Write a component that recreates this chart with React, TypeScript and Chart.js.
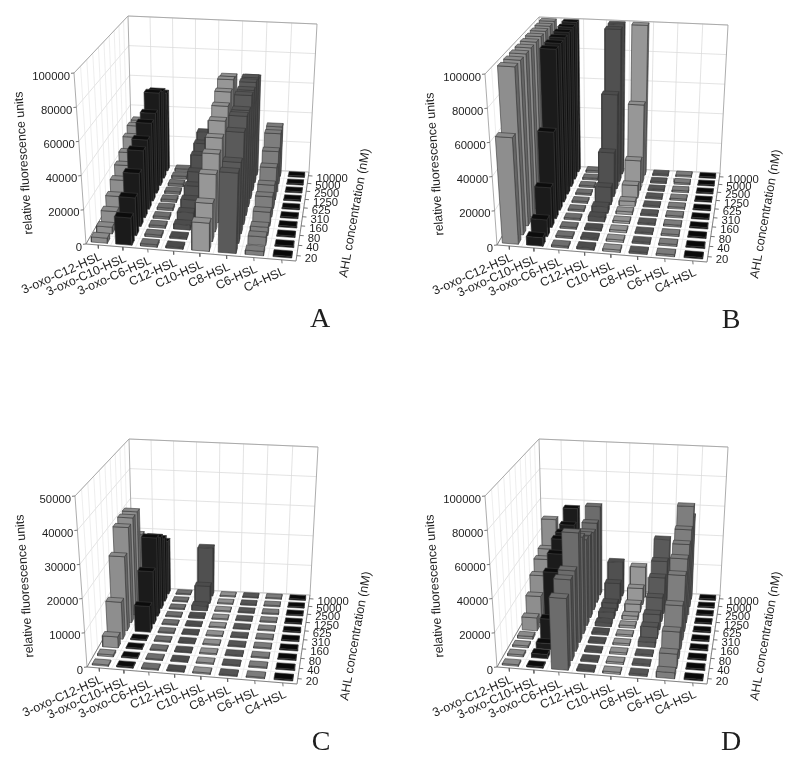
import React, { useEffect, useRef } from "react";
import { Chart, registerables } from "chart.js";

Chart.register(...registerables);

const categories = ["3-oxo-C12-HSL", "3-oxo-C10-HSL", "3-oxo-C6-HSL", "C12-HSL", "C10-HSL", "C8-HSL", "C6-HSL", "C4-HSL"];
const concentrations = ["20", "40", "80", "160", "310", "625", "1250", "2500", "5000", "10000"];
const yTicksHigh = [0, 20000, 40000, 60000, 80000, 100000];
const yTicksLow = [0, 10000, 20000, 30000, 40000, 50000];

// each row: one AHL, values from 20 nM to 10000 nM
const panelA = [
  [3000, 4000, 8000, 12000, 17000, 21500, 25000, 30500, 33500, 33000],
  [16000, 22500, 32000, 41000, 43000, 49000, 51000, 60000, 57000, 52000],
  [1500, 1500, 1500, 1500, 1600, 1700, 1700, 1800, 1900, 1900],
  [1200, 1200, 3000, 5000, 7500, 11000, 15000, 21000, 24000, 27000],
  [16500, 22500, 34500, 42000, 47000, 53000, 58000, 63000, 67000, 65000],
  [47000, 48000, 61000, 66000, 65000, 70000, 69000, 70000, 69000, 65000],
  [2500, 5000, 5000, 8500, 12500, 14500, 20500, 26000, 33000, 33000],
  [900, 900, 900, 900, 900, 900, 900, 900, 900, 900],
];
const panelB = [
  [62500, 100000, 100000, 100000, 100000, 100000, 100000, 100000, 100000, 100000],
  [5000, 10000, 24000, 53000, 100000, 100000, 100000, 100000, 100000, 100000],
  [1200, 1200, 1200, 1200, 1200, 1200, 1200, 1200, 1300, 1500],
  [1400, 1400, 1400, 3000, 4000, 11000, 28000, 61000, 100000, 100000],
  [1400, 1400, 1400, 1400, 1800, 3000, 8000, 19000, 51000, 100000],
  [1200, 1200, 1200, 1200, 1200, 1200, 1200, 1200, 1200, 1200],
  [1200, 1200, 1200, 1200, 1200, 1200, 1200, 1200, 1200, 1200],
  [900, 900, 900, 900, 900, 900, 900, 900, 900, 900],
];
const panelC = [
  [400, 600, 3300, 11300, 23000, 30000, 31000, 31000, 21500, 15000],
  [400, 400, 400, 400, 8000, 16500, 25000, 23000, 20500, 17500],
  [400, 400, 400, 400, 400, 400, 400, 400, 400, 400],
  [400, 400, 400, 400, 400, 400, 600, 1600, 5600, 16000],
  [400, 400, 400, 400, 400, 400, 400, 400, 400, 400],
  [400, 400, 400, 400, 400, 400, 400, 400, 400, 400],
  [400, 400, 400, 400, 400, 400, 400, 400, 400, 400],
  [400, 400, 400, 400, 400, 400, 400, 400, 400, 400],
];
const panelD = [
  [900, 1200, 1200, 1600, 8000, 16500, 25000, 31000, 33500, 49000],
  [900, 2500, 3500, 13000, 37000, 44000, 49000, 49000, 50000, 57000],
  [42000, 48000, 48500, 67000, 60000, 54000, 52500, 50000, 52000, 59000],
  [1200, 1200, 1200, 1200, 1600, 2500, 4000, 5000, 13000, 22500],
  [1200, 1200, 1200, 1200, 1200, 1600, 2500, 5000, 10500, 20000],
  [1200, 1200, 1200, 3000, 7000, 9500, 15000, 23000, 29000, 39000],
  [3500, 8500, 16000, 26500, 40000, 45500, 50000, 55000, 66000, 55000],
  [900, 900, 900, 900, 900, 900, 900, 900, 900, 900],
];

// front, top, side greys of each AHL column
const frontColors = ["#8e8e8e", "#1b1b1b", "#6c6c6c", "#505050", "#979797", "#5a5a5a", "#7e7e7e", "#0b0b0b"];
const topColors = ["#8a8a8a", "#0c0c0c", "#6e6e6e", "#4c4c4c", "#909090", "#555555", "#7c7c7c", "#090909"];
const sideColors = ["#666666", "#101010", "#4c4c4c", "#383838", "#707070", "#404040", "#5a5a5a", "#050505"];

const panels = [
  { letter: "A", data: panelA, ticks: yTicksHigh, left: 0, top: 0 },
  { letter: "B", data: panelB, ticks: yTicksHigh, left: 411, top: 1 },
  { letter: "C", data: panelC, ticks: yTicksLow, left: 1, top: 423 },
  { letter: "D", data: panelD, ticks: yTicksHigh, left: 411, top: 423 },
];

const W = 389;
const H = 341;
const BAR_W = 0.66;
const BAR_D = 0.52;

type P = [number, number];

function homography(p0: P, p1: P, p2: P, p3: P) {
  const dx1 = p1[0] - p2[0], dx2 = p3[0] - p2[0], sx = p0[0] - p1[0] + p2[0] - p3[0];
  const dy1 = p1[1] - p2[1], dy2 = p3[1] - p2[1], sy = p0[1] - p1[1] + p2[1] - p3[1];
  const den = dx1 * dy2 - dx2 * dy1;
  const g = (sx * dy2 - dx2 * sy) / den;
  const h = (dx1 * sy - sx * dy1) / den;
  const a = p1[0] - p0[0] + g * p1[0], b = p3[0] - p0[0] + h * p3[0], c = p0[0];
  const d = p1[1] - p0[1] + g * p1[1], e = p3[1] - p0[1] + h * p3[1], f = p0[1];
  return (u: number, v: number): P => {
    const w = g * u + h * v + 1;
    return [(a * u + b * v + c) / w, (d * u + e * v + f) / w];
  };
}

const floorH = homography([86, 244], [296, 261], [309, 172], [132, 164]);
const roofH = homography([74, 73], [308, 89], [317, 24], [128, 16]);

function project(u: number, v: number, t: number) {
  const f = floorH(u, v), r = roofH(u, v);
  return { x: f[0] + (r[0] - f[0]) * t, y: f[1] + (r[1] - f[1]) * t };
}

function polyDataset(points: { x: number; y: number }[], stroke: string, width: number, fill?: string) {
  return {
    data: fill ? [...points, points[0]] : points,
    borderColor: stroke,
    borderWidth: width,
    polyFill: fill,
    backgroundColor: fill || "transparent",
    pointRadius: 0,
    tension: 0,
    fill: false,
    clip: false as const,
    borderJoinStyle: "round" as const,
  };
}

function buildDatasets(rows: number[][], vmax: number, ticks: number[]) {
  const paint: any[] = [];
  const grid = "#dcdcdc";
  const frame = "#a4a4a4";
  // floor grid
  for (let i = 0; i <= 8; i++) paint.push(polyDataset([project(i / 8, 0, 0), project(i / 8, 1, 0)], "#e6e6e6", 0.7));
  for (let j = 0; j <= 10; j++) paint.push(polyDataset([project(0, j / 10, 0), project(1, j / 10, 0)], "#e6e6e6", 0.7));
  // walls
  for (const t of ticks) {
    const f = t / vmax;
    paint.push(polyDataset([project(0, 0, f), project(0, 1, f), project(1, 1, f)], grid, 0.8));
  }
  for (let i = 1; i < 8; i++) paint.push(polyDataset([project(i / 8, 1, 0), project(i / 8, 1, 1)], grid, 0.8));
  for (let j = 1; j < 10; j++) paint.push(polyDataset([project(0, j / 10, 0), project(0, j / 10, 1)], "#e6e6e6", 0.7));
  // wall frame
  paint.push(polyDataset([project(0, 0, 0), project(0, 0, 1), project(0, 1, 1), project(1, 1, 1), project(1, 1, 0)], frame, 0.9));
  paint.push(polyDataset([project(0, 1, 0), project(0, 1, 1)], frame, 0.9));
  paint.push(polyDataset([project(0, 1, 0), project(1, 1, 0)], "#c0c0c0", 0.8));
  // axis lines and ticks
  paint.push(polyDataset([project(0, 1, 0), project(0, 0, 0), project(1, 0, 0), project(1, 1, 0)], "#777777", 0.9));
  for (const t of ticks) {
    const p = project(0, 0, t / vmax);
    paint.push(polyDataset([p, { x: p.x - 3, y: p.y + 0.3 }], "#666666", 0.9));
  }
  categories.forEach((_, i) => {
    const p = project((i + 0.5) / 8, 0, 0);
    paint.push(polyDataset([p, { x: p.x + 0.3, y: p.y + 3.5 }], "#666666", 0.9));
  });
  concentrations.forEach((_, j) => {
    const p = project(1, (j + 0.5) / 10, 0);
    paint.push(polyDataset([p, { x: p.x + 4, y: p.y + 0.3 }], "#666666", 0.9));
  });
  // bars, from the back row to the front row and left to right
  const edge = "#383838";
  for (let j = 9; j >= 0; j--) {
    for (let i = 0; i < 8; i++) {
      const t = Math.min(rows[i][j], vmax) / vmax;
      const u0 = (i + 0.5 - BAR_W / 2) / 8, u1 = (i + 0.5 + BAR_W / 2) / 8;
      const v0 = (j + 0.5 - BAR_D / 2) / 10, v1 = (j + 0.5 + BAR_D / 2) / 10;
      paint.push(polyDataset([project(u1, v0, 0), project(u1, v1, 0), project(u1, v1, t), project(u1, v0, t)], edge, 0.6, sideColors[i]));
      paint.push(polyDataset([project(u0, v0, 0), project(u1, v0, 0), project(u1, v0, t), project(u0, v0, t)], edge, 0.6, frontColors[i]));
      paint.push(polyDataset([project(u0, v0, t), project(u1, v0, t), project(u1, v1, t), project(u0, v1, t)], edge, 0.6, topColors[i]));
    }
  }
  return paint.reverse();
}

const polyFillPlugin = {
  id: "polyFill",
  beforeDatasetDraw(chart: any, args: any) {
    const ds = chart.data.datasets[args.index];
    if (!ds.polyFill) return;
    const pts = args.meta.data;
    const ctx = chart.ctx;
    ctx.save();
    ctx.beginPath();
    pts.forEach((p: any, k: number) => (k ? ctx.lineTo(p.x, p.y) : ctx.moveTo(p.x, p.y)));
    ctx.closePath();
    ctx.fillStyle = ds.polyFill;
    ctx.fill();
    ctx.restore();
  },
};

const SANS = '"Liberation Sans", Arial, sans-serif';

function labelsPlugin(letter: string, ticks: number[], vmax: number) {
  return {
    id: "labels3d",
    afterDraw(chart: any) {
      const ctx = chart.ctx;
      const px = (p: { x: number; y: number }) => ({ x: chart.scales.x.getPixelForValue(p.x), y: chart.scales.y.getPixelForValue(p.y) });
      const text = (s: string, x: number, y: number, rot: number, align: CanvasTextAlign, font: string) => {
        ctx.save();
        ctx.translate(x, y);
        ctx.rotate((rot * Math.PI) / 180);
        ctx.textAlign = align;
        ctx.textBaseline = "middle";
        ctx.font = font;
        ctx.fillStyle = "#1e1e1e";
        ctx.fillText(s, 0, 0);
        ctx.restore();
      };
      const small = `11.3px ${SANS}`;
      const mid = `12.4px ${SANS}`;
      ticks.forEach((t) => {
        const p = px(project(0, 0, t / vmax));
        text(String(t), p.x - 4, p.y + 3.5, 0, "right", small);
      });
      categories.forEach((c, i) => {
        const p = px(project((i + 0.5) / 8, 0, 0));
        text(c, p.x + 3, p.y + 11, -24, "right", mid);
      });
      concentrations.forEach((c, j) => {
        const p = px(project(1, (j + 0.5) / 10, 0));
        text(c, p.x + 8, p.y + 3, 0, "left", small);
      });
      text("relative fluorescence units", 24, 163, -94, "center", mid);
      text("AHL concentration (nM)", 355, 213, -80, "center", mid);
      text(letter, 320, 320, 0, "center", '28px "Liberation Serif", serif');
    },
  };
}

function Panel({ p }: { p: (typeof panels)[number] }) {
  const ref = useRef<HTMLCanvasElement>(null);
  useEffect(() => {
    const vmax = p.ticks[p.ticks.length - 1];
    const chart = new Chart(ref.current as HTMLCanvasElement, {
      type: "line",
      data: { datasets: buildDatasets(p.data, vmax, p.ticks) as any },
      options: {
        animation: false,
        responsive: false,
        events: [],
        layout: { padding: 0 },
        parsing: { xAxisKey: "x", yAxisKey: "y" },
        plugins: { legend: { display: false }, tooltip: { enabled: false } },
        scales: {
          x: { type: "linear", min: 0, max: W, display: false },
          y: { type: "linear", min: 0, max: H, reverse: true, display: false },
        },
      },
      plugins: [polyFillPlugin, labelsPlugin(p.letter, p.ticks, vmax)],
    } as any);
    return () => chart.destroy();
  }, [p]);
  return (
    <canvas
      ref={ref}
      width={W}
      height={H}
      style={{ position: "absolute", left: p.left, top: p.top, width: W, height: H, display: "block" }}
    />
  );
}

export default function App() {
  return (
    <div style={{ position: "absolute", left: 0, top: 0, width: 800, height: 764, overflow: "hidden", background: "#ffffff" }}>
      {panels.map((p) => (
        <Panel key={p.letter} p={p} />
      ))}
    </div>
  );
}
